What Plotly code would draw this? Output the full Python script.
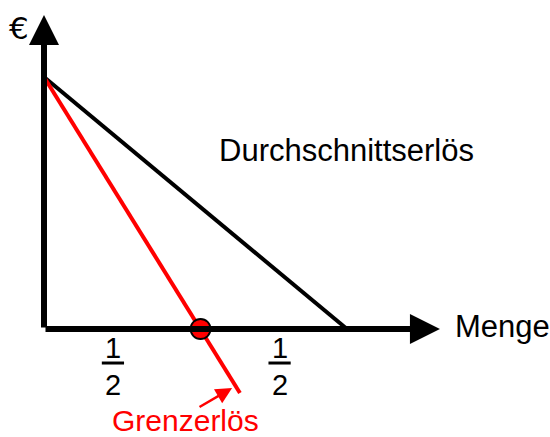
"""
Durchschnittserlös und Grenzerlös (lineare Nachfrage)
"""

import plotly.graph_objects as go

# ---------------------------
# data
# ---------------------------

price_intercept = 10.0          # common start of both lines on the € axis
avg_revenue_q = [0.0, 12.0]     # Durchschnittserlös: from y-axis to Menge axis
avg_revenue_p = [10.0, 0.0]
marginal_q = [0.0, 7.76]        # Grenzerlös: steeper, runs below the axis
marginal_p = [10.0, -2.54]
zero_point_q = [6.2]            # Grenzerlös = 0
zero_point_p = [0.0]

axis_tip_q = 15.68
axis_tip_p = 12.46

line_labels = ["Durchschnittserlös", "Grenzerlös"]
axis_labels = ["€", "Menge"]
fraction_parts = ["1", "2"]
fraction_centers_q = [2.73, 9.33]

# ---------------------------
# pixel geometry of the canvas
# ---------------------------

W, H = 550, 437
ORIGIN_PX = (44, 329)
PX_PER_Q = 25.25
PX_PER_P = 25.2

x_range = [-ORIGIN_PX[0] / PX_PER_Q, (W - ORIGIN_PX[0]) / PX_PER_Q]
y_range = [-(H - ORIGIN_PX[1]) / PX_PER_P, ORIGIN_PX[1] / PX_PER_P]

FONT = "Liberation Sans, Arial, sans-serif"
RED = "#ff0000"

fig = go.Figure()

# ---------------------------
# axes with arrow heads
# ---------------------------

for tip_x, tip_y in [(axis_tip_q, 0), (0, axis_tip_p)]:
    fig.add_annotation(
        x=tip_x, y=tip_y, ax=0, ay=0,
        xref="x", yref="y", axref="x", ayref="y",
        text="", showarrow=True,
        arrowhead=2, arrowsize=1.0, arrowwidth=6,
        arrowcolor="black", standoff=0, startstandoff=0,
    )

# ---------------------------
# revenue lines
# ---------------------------

fig.add_trace(go.Scatter(
    x=avg_revenue_q, y=avg_revenue_p,
    mode="lines", line=dict(color="black", width=4),
    name=line_labels[0],
))

fig.add_trace(go.Scatter(
    x=marginal_q, y=marginal_p,
    mode="lines", line=dict(color=RED, width=4),
    name=line_labels[1],
))

fig.add_trace(go.Scatter(
    x=zero_point_q, y=zero_point_p,
    mode="markers",
    marker=dict(size=20, color=RED, opacity=1,
                line=dict(color="black", width=1.8)),
    cliponaxis=False,
))

# ---------------------------
# labels
# ---------------------------

fig.add_annotation(
    x=-0.99, y=11.94, text=axis_labels[0], showarrow=False,
    font=dict(family="DejaVu Sans", size=31, color="black"),
)
fig.add_annotation(
    x=16.2, y=0.1, text=axis_labels[1], showarrow=False, xanchor="left",
    font=dict(family=FONT, size=31, color="black"),
)
fig.add_annotation(
    x=6.85, y=7.1, text=line_labels[0], showarrow=False, xanchor="left",
    font=dict(family=FONT, size=31, color="black"),
)
fig.add_annotation(
    x=2.6, y=-3.62, text=line_labels[1], showarrow=False, xanchor="left",
    font=dict(family=FONT, size=30, color=RED),
)

# pointer to the red line
fig.add_annotation(
    x=7.45, y=-2.34, ax=6.1, ay=-3.13,
    xref="x", yref="y", axref="x", ayref="y",
    text="", showarrow=True,
    arrowhead=2, arrowsize=1.3, arrowwidth=2.5,
    arrowcolor=RED, standoff=0,
)

# the two halves below the Menge axis
for qc in fraction_centers_q:
    fig.add_annotation(
        x=qc, y=-0.75, text=fraction_parts[0], showarrow=False,
        font=dict(family=FONT, size=29, color="black"),
    )
    fig.add_annotation(
        x=qc, y=-2.22, text=fraction_parts[1], showarrow=False,
        font=dict(family=FONT, size=29, color="black"),
    )
    fig.add_shape(
        type="line", x0=qc - 0.44, x1=qc + 0.44, y0=-1.35, y1=-1.35,
        line=dict(color="black", width=3),
    )

# ---------------------------
# layout
# ---------------------------

fig.update_layout(
    width=W, height=H,
    margin=dict(l=0, r=0, t=0, b=0),
    paper_bgcolor="white", plot_bgcolor="white",
    showlegend=False,
    xaxis=dict(range=x_range, visible=False, fixedrange=True),
    yaxis=dict(range=y_range, visible=False, fixedrange=True),
)

# page has a default 8px body margin; drop it so the figure fills the window
fig.write_html(
    "out.html",
    config={"displayModeBar": False},
    post_script="document.body.style.margin = '0';",
)
